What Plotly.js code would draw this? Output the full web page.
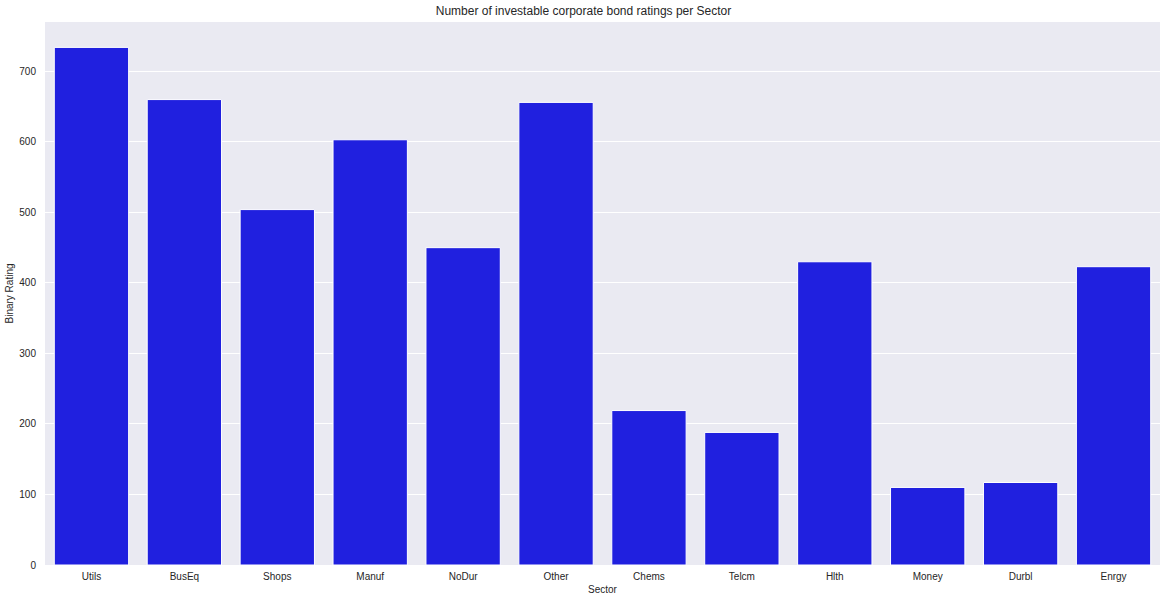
<!DOCTYPE html>
<html>
<head>
<meta charset="utf-8">
<script src="https://cdn.plot.ly/plotly-3.0.1.min.js"></script>
<style>html,body{margin:0;padding:0;background:#fff;}#chart{width:1167px;height:601px;}</style>
</head>
<body>
<div id="chart"></div>
<script>
const sectors = ["Utils","BusEq","Shops","Manuf","NoDur","Other","Chems","Telcm","Hlth","Money","Durbl","Enrgy"];
const counts = [734, 660, 504, 603, 450, 656, 219, 188, 430, 110, 117, 423];
const yTicks = [0, 100, 200, 300, 400, 500, 600, 700];

const font = "Liberation Sans, Arial, sans-serif";
Plotly.newPlot("chart", [{
  type: "bar",
  x: sectors,
  y: counts,
  width: 0.8,
  marker: {color: "rgb(32,32,223)", line: {color: "#ffffff", width: 1}},
  hoverinfo: "x+y"
}], {
  width: 1167, height: 601,
  margin: {l: 45, r: 6.5, t: 22, b: 36.3, pad: 0},
  paper_bgcolor: "#ffffff",
  plot_bgcolor: "#EAEAF2",
  font: {family: font, size: 10, color: "#262626"},
  title: {text: "Number of investable corporate bond ratings per Sector", x: 0.5, xanchor: "center", y: 0.982, yanchor: "middle", font: {size: 12, color: "#262626", family: font}},
  xaxis: {
    title: {text: "Sector", font: {size: 10, color: "#262626"}, standoff: 4},
    range: [-0.5, 11.5], showgrid: false, zeroline: false, ticks: "outside", ticklen: 2, tickcolor: "rgba(0,0,0,0)",
    tickfont: {size: 10, color: "#262626"}, automargin: false
  },
  yaxis: {
    title: {text: "Binary Rating", font: {size: 10, color: "#262626"}, standoff: 3},
    range: [0, 770], tickvals: yTicks, ticktext: yTicks.map(String),
    showgrid: true, gridcolor: "#ffffff", gridwidth: 1, zeroline: false, ticks: "outside", ticklen: 6, tickcolor: "rgba(0,0,0,0)",
    tickfont: {size: 10, color: "#262626"}, automargin: false
  },
  bargap: 0.2,
  showlegend: false
}, {displayModeBar: false, staticPlot: true});
</script>
</body>
</html>
